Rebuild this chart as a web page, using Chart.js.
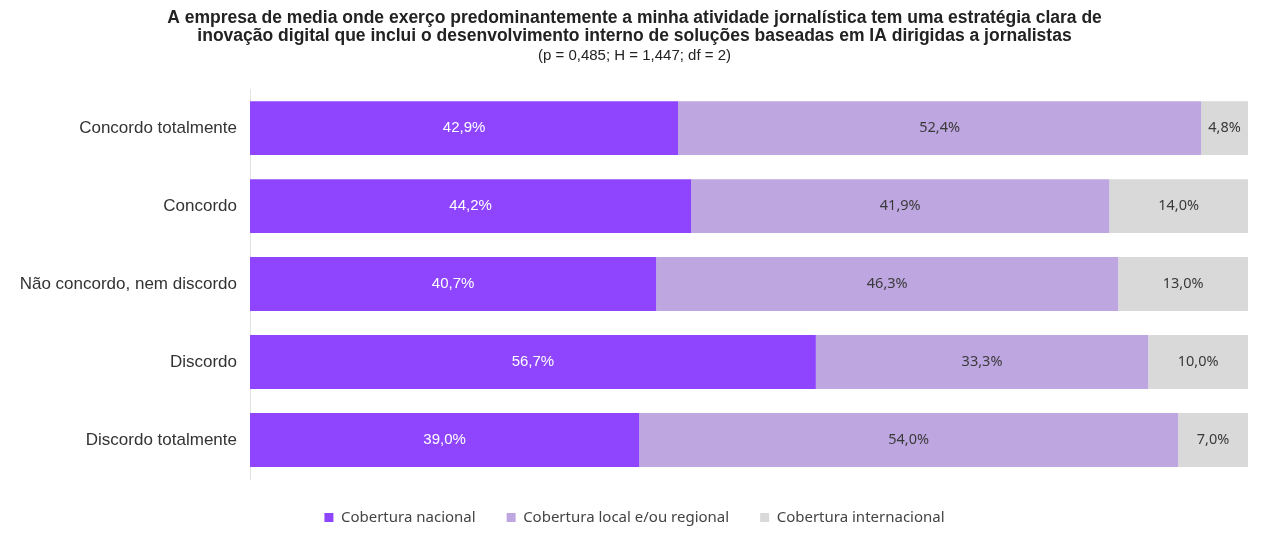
<!DOCTYPE html>
<html><head><meta charset="utf-8">
<script src="https://cdn.jsdelivr.net/npm/chart.js@4"></script>
<style>html,body{margin:0;padding:0;background:#fff}#wrap{width:1269px;height:538px}</style>
</head><body><div id="wrap"><canvas id="c"></canvas></div>
<script>
const categories = ["Concordo totalmente","Concordo","Não concordo, nem discordo","Discordo","Discordo totalmente"];
const seriesNames = ["Cobertura nacional","Cobertura local e/ou regional","Cobertura internacional"];
const nacional = [42.9,44.2,40.7,56.7,39.0];
const localRegional = [52.4,41.9,46.3,33.3,54.0];
const internacional = [4.8,14.0,13.0,10.0,7.0];
const colors = ["#8f45fe","#bea6e0","#d9d9d9"];
const labelColors = ["#ffffff","#3a3a3a","#3a3a3a"];

const labelPlugin = {
  id:'barLabels',
  afterDatasetsDraw(chart){
    const ctx = chart.ctx;
    chart.data.datasets.forEach((ds,di)=>{
      const meta = chart.getDatasetMeta(di);
      meta.data.forEach((bar,i)=>{
        const p = bar.getProps(['x','y','base'],true);
        const right = Math.min(p.x, chart.chartArea.right);
        const cx = (p.base + right)/2;
        ctx.save();
        ctx.fillStyle = labelColors[di];
        ctx.font = di===0 ? '15px "Liberation Sans", Arial, sans-serif' : '14.5px "Noto Sans", sans-serif';
        ctx.textAlign='center'; ctx.textBaseline='middle';
        ctx.fillText(ds.data[i].toFixed(1).replace('.',',')+'%', cx, p.y);
        ctx.restore();
      });
    });
  }
};

new Chart(document.getElementById('c'),{
  type:'bar',
  data:{labels:categories,datasets:[
    {label:seriesNames[0],data:nacional,backgroundColor:colors[0]},
    {label:seriesNames[1],data:localRegional,backgroundColor:colors[1]},
    {label:seriesNames[2],data:internacional,backgroundColor:colors[2]}
  ]},
  options:{
    indexAxis:'y',responsive:true,maintainAspectRatio:false,animation:false,
    datasets:{bar:{categoryPercentage:1,barPercentage:0.69,borderWidth:0}},
    layout:{padding:{left:21,right:21,top:0,bottom:3}},
    scales:{
      x:{stacked:true,min:0,max:100,display:false,grid:{display:false}},
      y:{stacked:true,grid:{display:false,drawTicks:false},border:{display:true,color:'#e2e2e2'},
         ticks:{color:'#333',padding:13,font:{family:'"Liberation Sans", Arial, sans-serif',size:17}},
         afterFit(s){s.width=229;}}
    },
    plugins:{
      title:{display:true,text:["A empresa de media onde exerço predominantemente a minha atividade jornalística tem uma estratégia clara de","inovação digital que inclui o desenvolvimento interno de soluções baseadas em IA dirigidas a jornalistas"],
        color:'#222',font:{family:'"Liberation Sans", Arial, sans-serif',size:17.5,weight:'bold',lineHeight:1.03},padding:{top:9,bottom:0}},
      subtitle:{display:true,text:"(p = 0,485; H = 1,447; df = 2)",color:'#222',font:{family:'"Liberation Sans", Arial, sans-serif',size:15},padding:{top:2,bottom:24}},
      legend:{position:'bottom',labels:{boxWidth:9,boxHeight:9,padding:31,color:'#444',font:{family:'"Noto Sans", sans-serif',size:15}}},
      tooltip:{enabled:false}
    }
  },
  plugins:[labelPlugin]
});
</script></body></html>
